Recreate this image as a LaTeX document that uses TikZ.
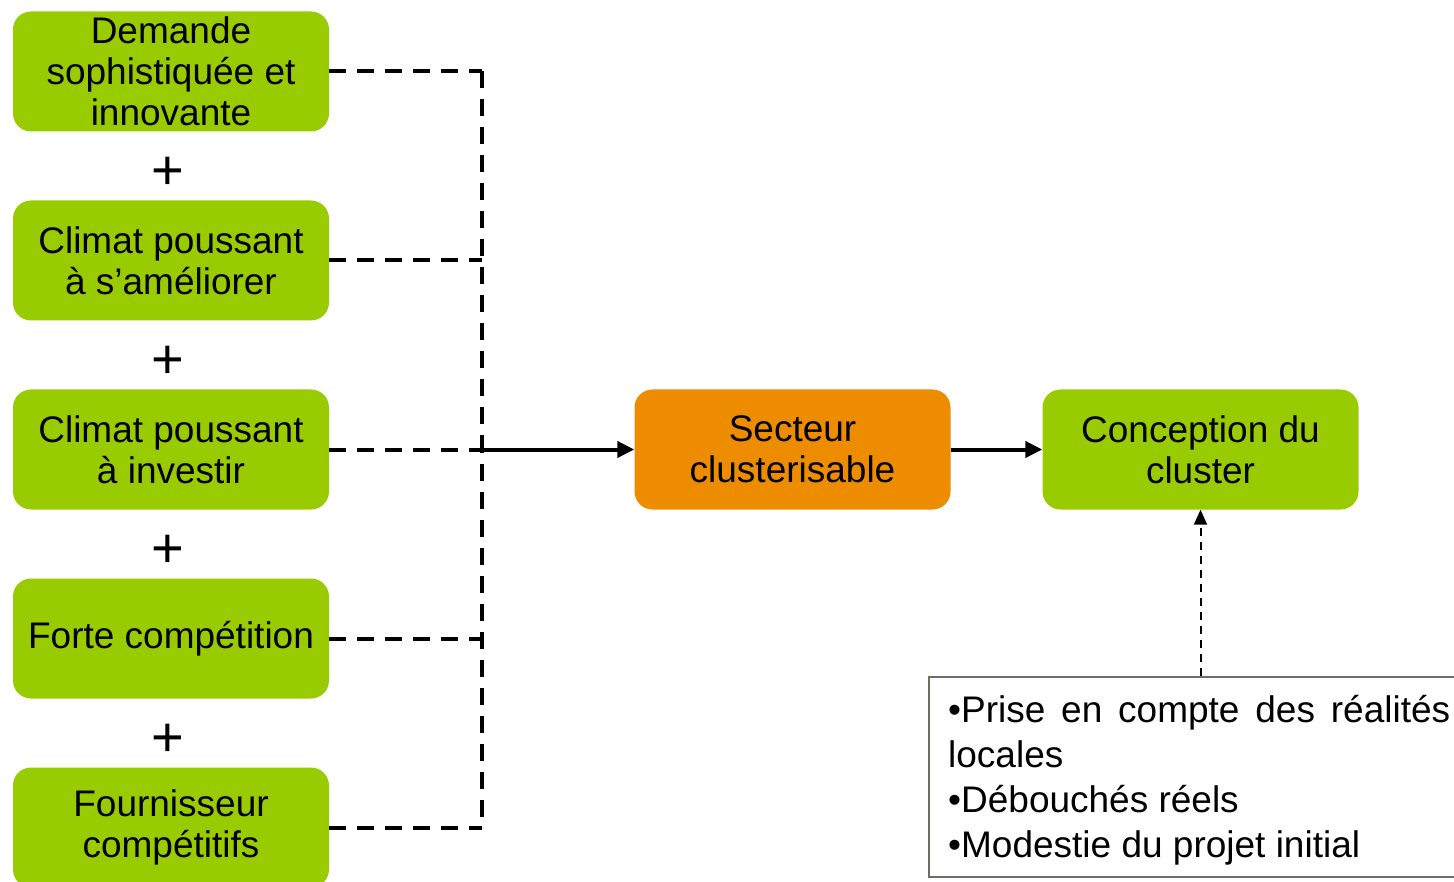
\documentclass[tikz,border=0pt]{standalone}
\usepackage{fontspec}
\setmainfont{Liberation Sans}
\usetikzlibrary{arrows.meta}
\definecolor{leaf}{RGB}{153,204,0}
\definecolor{amber}{RGB}{238,140,0}
\definecolor{frame}{RGB}{110,110,100}
\tikzset{
  factor/.style={rounded corners=18pt, fill=leaf, minimum width=316pt, minimum height=120pt,
    inner sep=0pt, align=center, font=\fontsize{37}{41}\selectfont},
  hub/.style={factor, fill=amber},
  plussign/.style={inner sep=0pt, font=\fontsize{56}{56}\selectfont},
  feed/.style={line width=4pt, dash pattern=on 17pt off 11pt},
  mainarrow/.style={line width=4pt, -{Triangle[length=17pt,width=16pt]}},
  hintarrow/.style={line width=2pt, dash pattern=on 8pt off 6pt, -{Triangle[length=15pt,width=13pt]}},
  notebox/.style={draw=frame, line width=2pt, anchor=north west, minimum width=560pt,
    minimum height=200pt, inner sep=0pt}
}
\begin{document}
\begin{tikzpicture}[x=1pt, y=-1pt]
  \useasboundingbox (0,0) rectangle (1454,882);
  \clip (0,0) rectangle (1454,882);

  % left column of conditions
  \node[factor] (d1) at (171,71.5) {Demande\\sophistiquée et\\innovante};
  \node[factor] (d2) at (171,260.5) {Climat poussant\\à s’améliorer};
  \node[factor] (d3) at (171,449.5) {Climat poussant\\à investir};
  \node[factor] (d4) at (171,638.5) {Forte compétition};
  \node[factor] (d5) at (171,827.5) {Fournisseur\\compétitifs};

  \node[plussign] (p1) at (168,173) {+};
  \node[plussign] (p2) at (168,362) {+};
  \node[plussign] (p3) at (168,551) {+};
  \node[plussign] (p4) at (168,740) {+};

  % centre and right
  \node[hub] (sec) at (792.5,449.5) {Secteur\\clusterisable};
  \node[factor] (conc) at (1200.5,449.5) {Conception du\\cluster};

  % note box
  \node[notebox] (note) at (928,676) {};
  \node[anchor=north west, inner sep=0pt, align=left, font=\fontsize{37}{45}\selectfont]
    (notetext) at (948,695)
    {\makebox[502pt][s]{•Prise en compte des réalités}\\locales\\•Débouchés réels\\•Modestie du projet initial};

  % collecting bus
  \coordinate (b1) at (482,71.5);
  \coordinate (b2) at (482,260.5);
  \coordinate (b3) at (482,449.5);
  \coordinate (b4) at (482,638.5);
  \coordinate (b5) at (482,827.5);
  \draw[feed] (b1) -- (b5);
  \draw[feed] (d1.east) -- (b1);
  \draw[feed] (d2.east) -- (b2);
  \draw[feed] (d3.east) -- (b3);
  \draw[feed] (d4.east) -- (b4);
  \draw[feed] (d5.east) -- (b5);

  % arrows
  \draw[mainarrow] (b3) -- (sec.west);
  \draw[mainarrow] (sec.east) -- (conc.west);
  \draw[hintarrow] (note.north -| conc.south) -- (conc.south);
\end{tikzpicture}
\end{document}
